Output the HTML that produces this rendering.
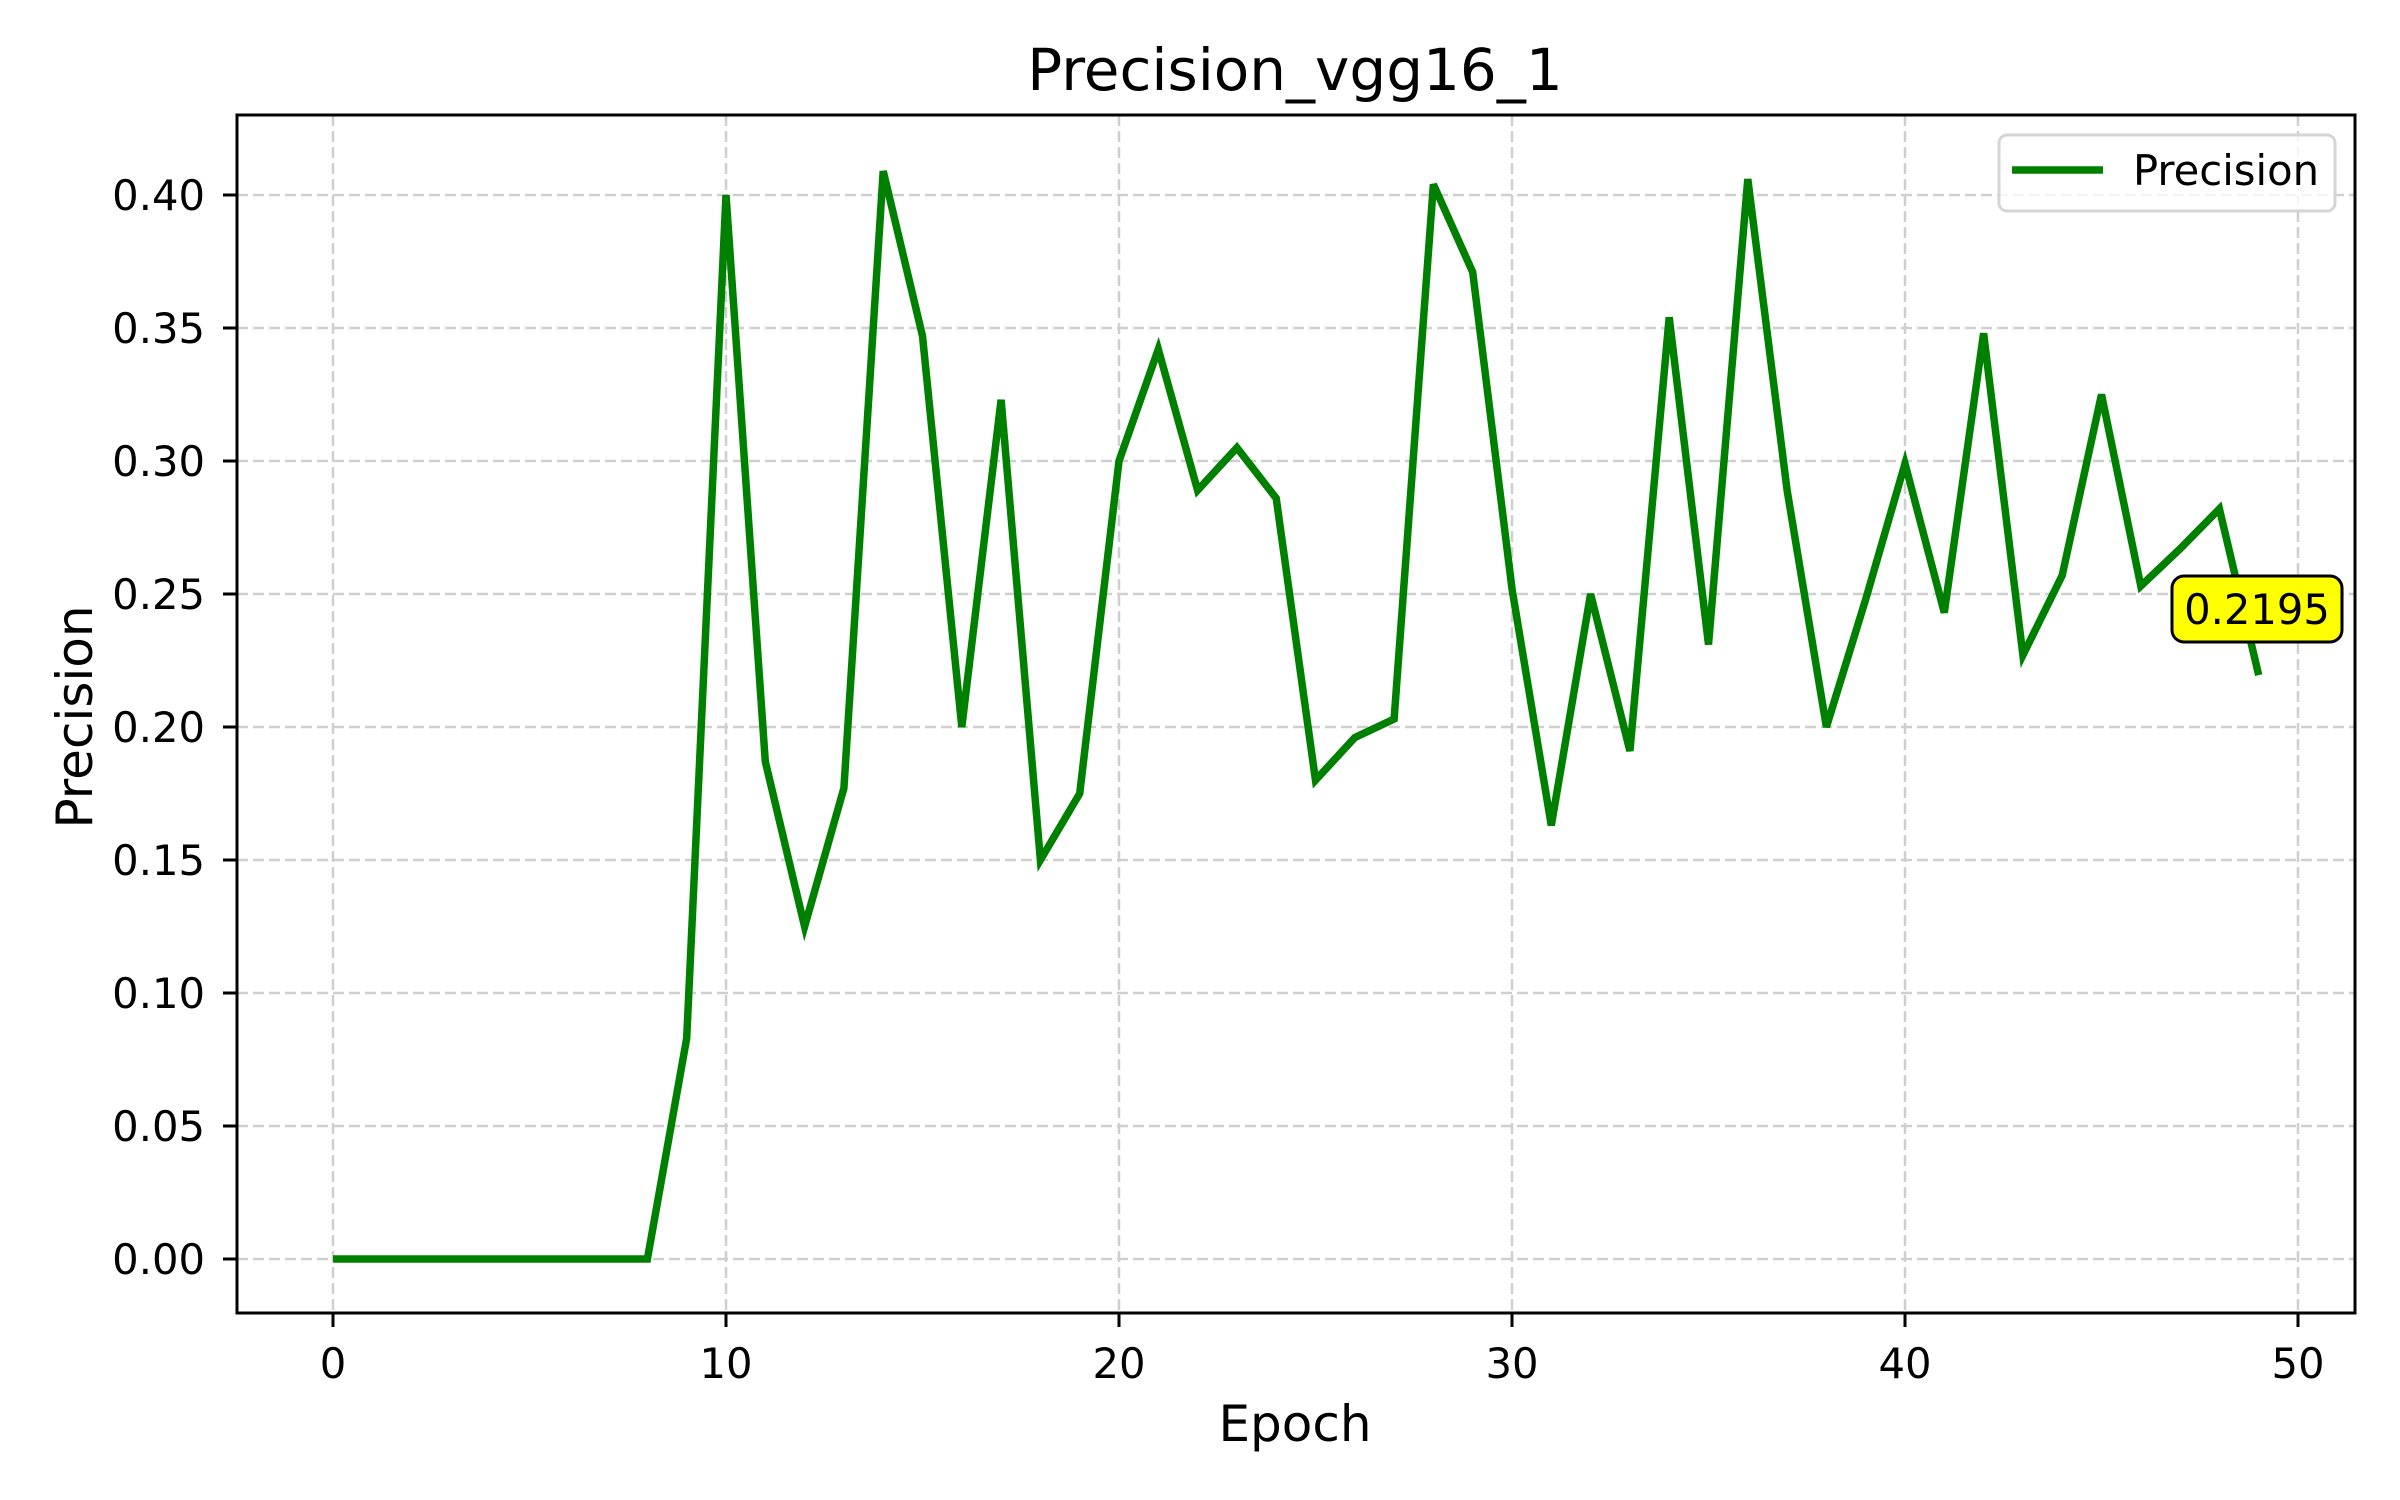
<!DOCTYPE html>
<html><head><meta charset="utf-8"><style>
html,body{margin:0;padding:0;background:#fff}
svg{display:block;font-family:"DejaVu Sans","Liberation Sans",sans-serif}
</style></head><body>
<svg id="chart" width="2400" height="1500" viewBox="0 0 2400 1500">
<rect width="2400" height="1500" fill="#fff"/>
<text x="1295" y="90" font-size="58" text-anchor="middle">Precision_vgg16_1</text>
<g id="grid"></g>
<g id="ticks"></g>
<polyline id="line" fill="none" stroke="#008000" stroke-width="7.5" stroke-linejoin="miter"/>
<rect x="237" y="115" width="2118" height="1198" fill="none" stroke="#000" stroke-width="3"/>
<text x="1295" y="1441" font-size="50" text-anchor="middle">Epoch</text>
<text transform="translate(92,717) rotate(-90)" font-size="50" text-anchor="middle">Precision</text>
<g>
<rect x="1999" y="135" width="336" height="76" rx="8" fill="#fff" fill-opacity="0.8" stroke="#d5d5d5" stroke-width="3"/>
<line x1="2012" y1="170" x2="2103" y2="170" stroke="#008000" stroke-width="7.5"/>
<text x="2133" y="185" font-size="41.7">Precision</text>
</g>
<g>
<rect x="2172" y="576" width="170" height="66" rx="12" fill="#ffff00" stroke="#000" stroke-width="3"/>
<text id="annot" x="2257" y="624" font-size="41.7" text-anchor="middle">0.2195</text>
</g>
</svg>
<script>
const epochs = [0,1,2,3,4,5,6,7,8,9,10,11,12,13,14,15,16,17,18,19,20,21,22,23,24,25,26,27,28,29,30,31,32,33,34,35,36,37,38,39,40,41,42,43,44,45,46,47,48,49];
const precision = [0,0,0,0,0,0,0,0,0,0.083,0.400,0.187,0.125,0.177,0.409,0.347,0.200,0.323,0.150,0.175,0.300,0.342,0.289,0.305,0.286,0.180,0.196,0.203,0.404,0.371,0.252,0.163,0.250,0.191,0.354,0.231,0.406,0.289,0.200,0.248,0.299,0.243,0.348,0.227,0.257,0.325,0.253,0.267,0.282,0.2195];
const xTicks = [0,10,20,30,40,50];
const yTicks = [0,0.05,0.10,0.15,0.20,0.25,0.30,0.35,0.40];
const yTickLabels = ["0.00","0.05","0.10","0.15","0.20","0.25","0.30","0.35","0.40"];

const NS = "http://www.w3.org/2000/svg";
const L = 237, R = 2355, T = 115, B = 1313;
const xs = v => 333 + v * (2298 - 333) / 50;
const ys = v => 1259 - v * (1259 - 195) / 0.40;
const grid = document.getElementById('grid');
const ticks = document.getElementById('ticks');
function mk(tag, attrs, parent) {
  const e = document.createElementNS(NS, tag);
  for (const k in attrs) e.setAttribute(k, attrs[k]);
  parent.appendChild(e);
  return e;
}
xTicks.forEach(t => {
  const x = xs(t);
  const g = mk('line', {x1:x, x2:x, y1:T, y2:B, stroke:'#cfcfcf', 'stroke-width':2.5, 'stroke-dasharray':'11,5'}, grid);
  
  
  const tk = mk('line', {x1:x, x2:x, y1:B, y2:B+14, stroke:'#000', 'stroke-width':3}, ticks);
  
  
  const lb = mk('text', {x:x, y:1378, 'font-size':41.7, 'text-anchor':'middle'}, ticks);
  lb.textContent = String(t);
  
  
});
yTicks.forEach((t, i) => {
  const y = ys(t);
  const g = mk('line', {x1:L, x2:R, y1:y, y2:y, stroke:'#cfcfcf', 'stroke-width':2.5, 'stroke-dasharray':'11,5'}, grid);
  
  
  const tk = mk('line', {x1:L-14, x2:L, y1:y, y2:y, stroke:'#000', 'stroke-width':3}, ticks);
  
  
  const lb = mk('text', {x:205, y:y+15, 'font-size':41.7, 'text-anchor':'end'}, ticks);
  lb.textContent = yTickLabels[i];
  
  
});
document.getElementById('line').setAttribute('points', epochs.map((e, i) => xs(e) + ',' + ys(precision[i])).join(' '));
document.getElementById('annot').textContent = precision[precision.length - 1].toFixed(4);
</script>
</body></html>
